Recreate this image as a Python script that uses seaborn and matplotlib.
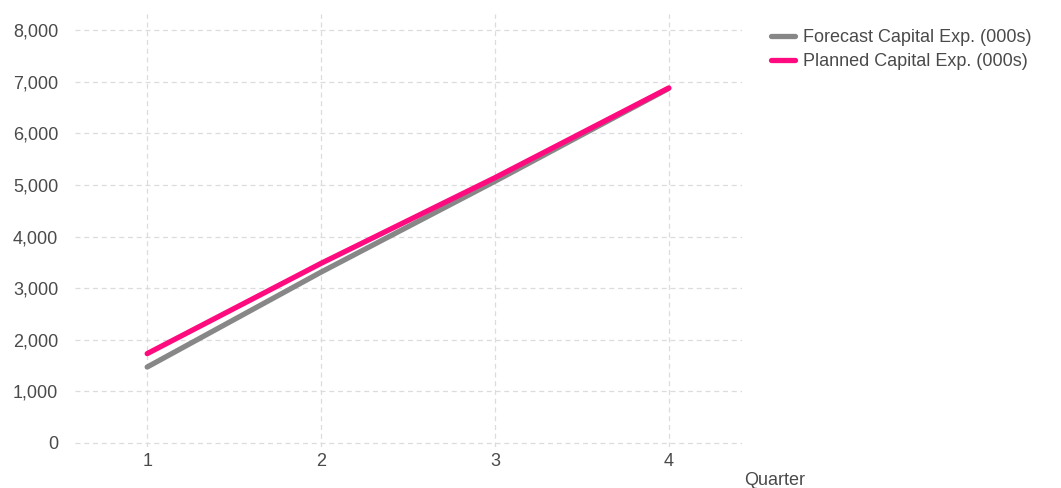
import matplotlib
matplotlib.use("Agg")
import matplotlib.pyplot as plt
import matplotlib.ticker as mticker
import pandas as pd
import seaborn as sns

quarters = [1, 2, 3, 4]
forecast = [1470, 3310, 5070, 6870]
planned = [1730, 3480, 5140, 6880]
series_names = ["Forecast Capital Exp. (000s)", "Planned Capital Exp. (000s)"]
y_ticks = [0, 1000, 2000, 3000, 4000, 5000, 6000, 7000, 8000]

df = pd.DataFrame({
    "Quarter": quarters * 2,
    "Value": forecast + planned,
    "Series": [series_names[0]] * len(quarters) + [series_names[1]] * len(quarters),
})

sns.set_theme(style="white")
plt.rcParams["font.family"] = ["Liberation Sans", "DejaVu Sans"]

fig = plt.figure(figsize=(10.61, 4.88), dpi=100)
ax = fig.add_axes([0.0707, 0.084, 0.6285, 0.887])

palette = {series_names[0]: "#878787", series_names[1]: "#ff0a7f"}
sns.lineplot(data=df, x="Quarter", y="Value", hue="Series", palette=palette,
             linewidth=3.8, ax=ax, legend=True)

ax.set_xlim(0.585, 4.42)
ax.set_ylim(-80, 8310)
ax.set_xticks(quarters)
ax.set_yticks(y_ticks)
ax.yaxis.set_major_formatter(mticker.FuncFormatter(lambda v, p: f"{int(v):,}"))

ax.grid(True, color="#dcdcdc", linestyle=(0, (4, 3)), linewidth=0.9)
for s in ax.spines.values():
    s.set_visible(False)
ax.tick_params(axis="both", length=0, labelsize=13, colors="#4a4a4a")
ax.tick_params(axis="y", pad=12)
ax.tick_params(axis="x", pad=4)

ax.set_ylabel("")
ax.set_xlabel("Quarter", fontsize=13, color="#4a4a4a")
ax.xaxis.set_label_coords(1.004, -0.058)
ax.xaxis.label.set_horizontalalignment("left")

leg = ax.legend(loc="upper left", bbox_to_anchor=(0.72, 0.955),
                bbox_transform=fig.transFigure, frameon=False,
                fontsize=13, handlelength=1.3, handletextpad=0.45,
                labelspacing=0.4, borderaxespad=0)
for t in leg.get_texts():
    t.set_color("#4a4a4a")
for h in leg.get_lines():
    h.set_linewidth(3.8)

fig.savefig("out.png", dpi=100)
